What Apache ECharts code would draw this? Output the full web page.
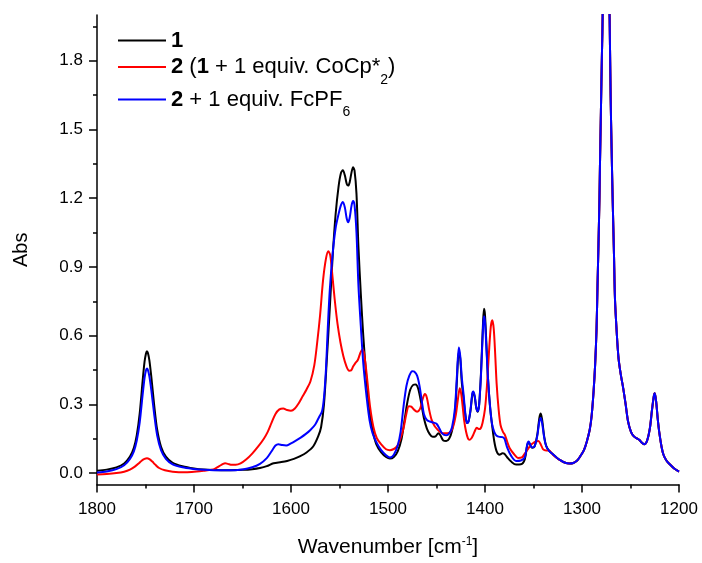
<!DOCTYPE html>
<html><head><meta charset="utf-8">
<script src="https://cdn.jsdelivr.net/npm/echarts@6/dist/echarts.min.js"></script>
<style>html,body{margin:0;padding:0;background:#fff}#c{width:702px;height:563px}</style>
</head><body><div id="c"></div>
<script>
// ---- data ----
const xTicks = [1800, 1700, 1600, 1500, 1400, 1300, 1200];
const yTicks = [0.0, 0.3, 0.6, 0.9, 1.2, 1.5, 1.8];
const yMinorTicks = [0.15, 0.45, 0.75, 1.05, 1.35, 1.65, 1.95];
const seriesNames = ['1', '2 (1 + 1 equiv. CoCp*2)', '2 + 1 equiv. FcPF6'];

const blackWn = [
  1800,1790,1780,1772,1766,1762,1759,1756,1753,1751,
  1749.5,1748.5,1747.5,1746,1744,1741,1738,1734,1729,1722,
  1712,1700,1690,1680,1665,1650,1640,1632,1625,1618,
  1610,1604,1597,1591,1584,1577,1572,1569,1566,1563,
  1560,1557,1554,1551,1548.5,1546.5,1544.5,1542.5,1541,1539.5,
  1537.5,1536,1534.5,1532.5,1530.5,1528,1525.5,1522,1519,1516,
  1512,1507,1502,1498,1494,1490,1486,1483,1480,1477,
  1474,1471.5,1469,1466,1463,1460,1457,1454,1451,1448,
  1446,1443,1440,1437,1434,1431,1429,1427,1425.5,1424,
  1422,1420,1418.5,1417,1415,1413,1412,1410.5,1409,1407.5,
  1406,1404,1402,1401,1400,1398.5,1397,1395,1393,1390.5,
  1388,1385,1382,1380,1377,1373,1368,1363,1359,1356.5,
  1355,1353.5,1351.5,1349,1346,1344,1342.5,1341,1339,1337,
  1334,1330,1326
];
const blackAbs = [
  0.010,0.015,0.025,0.042,0.072,0.110,0.165,0.260,0.400,0.485,
  0.522,0.532,0.524,0.492,0.420,0.295,0.190,0.115,0.072,0.045,
  0.030,0.020,0.015,0.013,0.012,0.014,0.017,0.022,0.030,0.043,
  0.048,0.053,0.062,0.073,0.090,0.117,0.160,0.200,0.300,0.500,
  0.720,0.950,1.130,1.250,1.310,1.322,1.300,1.262,1.255,1.270,
  1.315,1.335,1.320,1.220,0.990,0.780,0.600,0.400,0.270,0.190,
  0.125,0.090,0.070,0.063,0.070,0.095,0.150,0.230,0.310,0.365,
  0.385,0.387,0.370,0.310,0.240,0.195,0.170,0.158,0.160,0.174,
  0.165,0.142,0.140,0.150,0.185,0.260,0.400,0.530,0.500,0.400,
  0.320,0.245,0.218,0.225,0.270,0.345,0.352,0.330,0.285,0.268,
  0.300,0.450,0.660,0.717,0.690,0.560,0.420,0.300,0.220,0.140,
  0.095,0.080,0.086,0.084,0.068,0.050,0.037,0.038,0.060,0.120,
  0.135,0.125,0.110,0.115,0.170,0.240,0.260,0.230,0.160,0.120,
  0.098,0.082,0.067
];

const redWn = [
  1800,1790,1780,1772,1766,1761,1757,1754,1751,1748.5,
  1746,1743,1740,1736,1730,1722,1710,1700,1690,1680,
  1674,1670,1668,1665,1661,1657,1652,1646,1640,1634,
  1628,1624,1620,1616,1612,1608,1604,1600,1596,1592,
  1588,1584,1580,1576,1573,1570,1567,1564,1561.5,1559.5,
  1557.5,1555,1552,1549,1546,1543,1540,1538,1536,1534,
  1531,1528.5,1526.5,1525,1523,1521,1518.5,1515,1511.5,1507,
  1502,1498,1494,1491,1488,1484,1481,1478.5,1476,1473,
  1470,1467,1464.5,1462,1460,1457.5,1455,1452,1449,1446,
  1443,1439,1436,1433,1430,1428,1426,1424.5,1423,1421.5,
  1419.5,1417.5,1416,1414,1412,1410,1408.5,1406.5,1404.5,1402.5,
  1400,1398,1396,1394,1392.5,1391,1389.5,1388,1386,1384,
  1381.5,1379.5,1377,1374.5,1370,1366,1362,1359,1356,1353,
  1350,1347.5,1345,1342.5,1340,1337,1334,1331,1328,1324
];
const redAbs = [
  -0.006,-0.004,0.000,0.006,0.015,0.028,0.042,0.054,0.062,0.065,
  0.061,0.050,0.037,0.022,0.012,0.006,0.003,0.006,0.010,0.016,
  0.030,0.040,0.043,0.040,0.036,0.036,0.042,0.060,0.085,0.115,
  0.150,0.180,0.220,0.258,0.278,0.282,0.275,0.272,0.282,0.305,
  0.335,0.365,0.400,0.470,0.570,0.690,0.840,0.935,0.968,0.950,
  0.870,0.760,0.650,0.570,0.510,0.468,0.447,0.448,0.465,0.478,
  0.495,0.525,0.540,0.530,0.470,0.390,0.290,0.200,0.152,0.125,
  0.104,0.100,0.105,0.115,0.140,0.196,0.260,0.292,0.290,0.276,
  0.268,0.280,0.320,0.345,0.330,0.275,0.232,0.205,0.190,0.178,
  0.174,0.174,0.178,0.200,0.255,0.320,0.370,0.345,0.290,0.230,
  0.180,0.150,0.145,0.152,0.168,0.188,0.198,0.192,0.195,0.220,
  0.280,0.380,0.520,0.640,0.667,0.630,0.520,0.390,0.280,0.210,
  0.180,0.167,0.135,0.108,0.082,0.066,0.068,0.085,0.103,0.122,
  0.132,0.138,0.140,0.125,0.103,0.098,0.098,0.085,0.072,0.060
];

const blueWn = [
  1800,1790,1780,1772,1766,1762,1759,1756,1753,1751,
  1749.5,1748.5,1747.5,1746,1744,1741,1738,1734,1729,1722,
  1712,1700,1690,1680,1665,1650,1640,1632,1625,1620,
  1616,1613,1609,1605,1600,1595,1590,1585,1580,1575,
  1571,1568,1566,1564,1562,1560,1557,1554,1551,1548.5,
  1546.5,1544.5,1542.5,1541,1539.5,1537.5,1536,1534.5,1532.5,1530.5,
  1528,1525.5,1522,1519,1516,1512,1507,1502,1498,1494,
  1490,1487,1484,1481,1478,1475,1473,1470,1467.5,1465,
  1463,1460,1457,1453,1450,1447,1444,1440,1437,1434,
  1431,1429,1427,1425.5,1424,1422,1420,1418.5,1417,1415,
  1413,1412,1410.5,1409,1407.5,1406,1404,1402,1401,1400,
  1398.5,1397,1395,1393,1390.5,1388,1385,1382,1380,1377,
  1373,1368,1363,1359,1356.5,1355,1353.5,1351.5,1349,1346,
  1344,1342.5,1341,1339,1337,1334,1330,1326
];
const blueAbs = [
  0.002,0.007,0.017,0.034,0.062,0.095,0.142,0.220,0.340,0.415,
  0.449,0.457,0.450,0.422,0.362,0.255,0.165,0.100,0.062,0.038,
  0.025,0.018,0.014,0.012,0.012,0.016,0.025,0.040,0.065,0.095,
  0.120,0.126,0.122,0.120,0.130,0.142,0.155,0.170,0.188,0.212,
  0.245,0.270,0.330,0.450,0.640,0.800,0.960,1.070,1.130,1.170,
  1.184,1.160,1.110,1.095,1.115,1.170,1.188,1.170,1.050,0.820,
  0.640,0.480,0.330,0.230,0.175,0.135,0.100,0.078,0.068,0.080,
  0.120,0.180,0.290,0.380,0.425,0.445,0.443,0.425,0.380,0.310,
  0.258,0.232,0.225,0.220,0.215,0.195,0.172,0.165,0.172,0.200,
  0.283,0.420,0.548,0.510,0.420,0.340,0.250,0.218,0.225,0.275,
  0.350,0.356,0.335,0.285,0.270,0.300,0.440,0.640,0.685,0.660,
  0.540,0.420,0.300,0.220,0.180,0.163,0.158,0.157,0.150,0.110,
  0.075,0.053,0.055,0.068,0.125,0.138,0.125,0.112,0.115,0.165,
  0.225,0.240,0.215,0.155,0.118,0.097,0.082,0.067
];

// common region 1322-1200 cm-1 (all three spectra coincide)
const tailWn = [
  1322,1318,1313,1309,1305,1302,1298,1295,1292,1290,
  1288,1286.5,1285,1284,1283,1282,1281.5,1280.5,1279.5,1279,
  1278,1277,1276,1275.2,1274.5,1273.5,1272.5,1271.5,1270.5,1269.5,
  1268.4,1267,1266,1264,1262.3,1260,1257.5,1255,1252.5,1249.5,
  1246.5,1243,1241,1238.5,1236,1233,1230,1228,1226,1225,
  1223.5,1222,1220.4,1218,1216,1213,1209,1205,1200
];
const tailAbs = [
  0.055,0.046,0.042,0.044,0.055,0.072,0.100,0.138,0.190,0.253,
  0.360,0.470,0.630,0.820,1.000,1.200,1.340,1.580,1.820,1.920,
  2.200,2.420,2.560,2.600,2.570,2.430,2.200,1.980,1.650,1.420,
  1.196,0.950,0.760,0.600,0.500,0.430,0.370,0.300,0.225,0.180,
  0.160,0.150,0.145,0.133,0.126,0.140,0.196,0.270,0.335,0.348,
  0.310,0.240,0.180,0.115,0.080,0.055,0.036,0.020,0.006
];

// ---- build ----
const FF = "'Liberation Sans', Arial, Helvetica, sans-serif";
function pairs(wn, ab) {
  const out = wn.map((w, i) => [w, ab[i]]);
  return out.concat(tailWn.map((w, i) => [w, tailAbs[i]]));
}
const colors = ['#000000', '#ff0000', '#0000ff'];
const dataSets = [pairs(blackWn, blackAbs), pairs(redWn, redAbs), pairs(blueWn, blueAbs)];

const legendRich = {
  b: {fontFamily: FF, fontSize: 22, fontWeight: 'bold', color: '#000', lineHeight: 40},
  n: {fontFamily: FF, fontSize: 22, color: '#000', lineHeight: 40},
  s2: {fontFamily: FF, fontSize: 14, color: '#000', lineHeight: 6, verticalAlign: 'bottom'},
  s6: {fontFamily: FF, fontSize: 14, color: '#000', lineHeight: 20, verticalAlign: 'bottom'}
};
const legendText = {};
legendText[seriesNames[0]] = '{b|1}';
legendText[seriesNames[1]] = '{b|2}{n| (}{b|1}{n| + 1 equiv. CoCp*}{s2|2}{n|)}';
legendText[seriesNames[2]] = '{b|2}{n| + 1 equiv. FcPF}{s6|6}';
const legendTops = [29.5, 56, 88.5];

const chart = echarts.init(document.getElementById('c'), null, {renderer: 'canvas'});
chart.setOption({
  animation: false,
  backgroundColor: '#fff',
  grid: {left: 97, right: 23, top: 15, bottom: 76, containLabel: false},
  legend: seriesNames.map((nm, i) => ({
    data: [nm], left: 118, top: legendTops[i], padding: 0,
    orient: 'vertical', icon: 'rect', itemWidth: 48, itemHeight: 2,
    selectedMode: false,
    formatter: name => legendText[name],
    textStyle: {rich: legendRich}
  })),
  xAxis: {
    type: 'value', min: 1200, max: 1800, interval: 100, inverse: true,
    position: 'bottom',
    axisLine: {onZero: false, lineStyle: {color: '#000', width: 1.5}},
    axisTick: {show: true, inside: false, length: 8, lineStyle: {color: '#000', width: 1.5}},
    minorTick: {show: true, splitNumber: 2, length: 4, lineStyle: {color: '#000', width: 1.5}},
    splitLine: {show: false}, minorSplitLine: {show: false},
    axisLabel: {color: '#000', fontSize: 17, fontFamily: FF, margin: 16,
      showMinLabel: true, showMaxLabel: true,
      customValues: xTicks, formatter: v => String(Math.round(v))},
    name: '{n|Wavenumber [cm}{sup|-1}{n|]}',
    nameLocation: 'middle', nameGap: 51,
    nameTextStyle: {rich: {
      n: {fontFamily: FF, fontSize: 21, color: '#000', lineHeight: 24},
      sup: {fontFamily: FF, fontSize: 12, color: '#000', lineHeight: 12, verticalAlign: 'top'}
    }}
  },
  yAxis: [{
    type: 'value', min: -0.05, max: 2.0, position: 'left',
    axisLine: {show: true, onZero: false, lineStyle: {color: '#000', width: 1.5}},
    axisTick: {show: true, inside: false, length: 8, customValues: yTicks, lineStyle: {color: '#000', width: 1.5}},
    splitLine: {show: false},
    axisLabel: {color: '#000', fontSize: 17, fontFamily: FF, margin: 14,
      customValues: yTicks, formatter: v => Number(v).toFixed(1)},
    name: 'Abs', nameLocation: 'middle', nameGap: 66,
    nameTextStyle: {color: '#000', fontSize: 20, fontFamily: FF}
  }, {
    type: 'value', min: -0.05, max: 2.0, position: 'left',
    axisLine: {show: false, onZero: false},
    axisTick: {show: true, inside: false, length: 4, customValues: yMinorTicks, lineStyle: {color: '#000', width: 1.5}},
    axisLabel: {show: false}, splitLine: {show: false}
  }],
  series: dataSets.map((d, i) => ({
    name: seriesNames[i], type: 'line', data: d, yAxisIndex: 0,
    showSymbol: false, symbol: 'none', smooth: 0.3,
    color: colors[i], itemStyle: {color: colors[i]},
    lineStyle: {color: colors[i], width: 2}, clip: true, z: 2 + i
  }))
});
</script></body></html>
